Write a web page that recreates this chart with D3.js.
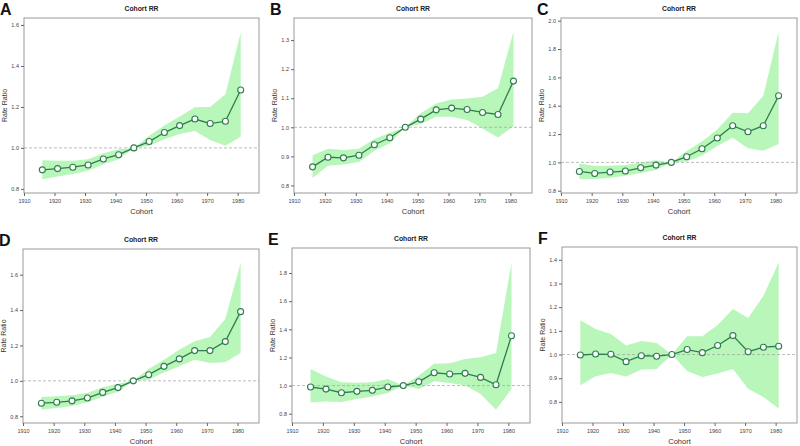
<!DOCTYPE html>
<html><head><meta charset="utf-8">
<script src="https://cdn.jsdelivr.net/npm/d3@7"></script>
<style>body{margin:0;background:#fff}svg{display:block}text{font-family:"Liberation Sans",Arial,sans-serif}</style>
</head><body><svg id="c" width="800" height="446"></svg>
<script>
const cohorts = [1916,1921,1926,1931,1936,1941,1946,1951,1956,1961,1966,1971,1976,1981];
const xTicks = [1910,1920,1930,1940,1950,1960,1970,1980];

const rrA  = [0.893,0.899,0.906,0.917,0.946,0.967,1.0,1.031,1.075,1.109,1.141,1.119,1.130,1.283];
const upA  = [0.940,0.937,0.937,0.945,0.974,0.993,1.0,1.059,1.110,1.153,1.198,1.200,1.262,1.563];
const loA  = [0.847,0.860,0.873,0.888,0.920,0.945,1.0,1.011,1.042,1.068,1.083,1.039,1.011,1.055];

const rrB  = [0.864,0.897,0.895,0.904,0.940,0.964,1.0,1.028,1.060,1.066,1.061,1.051,1.044,1.159];
const upB  = [0.904,0.926,0.922,0.926,0.960,0.981,1.0,1.048,1.082,1.096,1.099,1.105,1.134,1.329];
const loB  = [0.826,0.868,0.872,0.881,0.919,0.945,1.0,1.011,1.036,1.036,1.025,0.996,0.965,1.004];

const rrC  = [0.936,0.922,0.932,0.939,0.962,0.981,1.0,1.040,1.096,1.172,1.259,1.216,1.259,1.470];
const upC  = [0.993,0.974,0.976,0.981,1.000,1.016,1.0,1.080,1.148,1.233,1.351,1.346,1.470,1.922];
const loC  = [0.882,0.882,0.892,0.906,0.925,0.946,1.0,1.007,1.049,1.115,1.174,1.099,1.082,1.129];

const rrD  = [0.874,0.879,0.887,0.903,0.935,0.962,1.0,1.035,1.082,1.124,1.171,1.171,1.222,1.391];
const upD  = [0.909,0.913,0.919,0.932,0.964,0.984,1.0,1.067,1.120,1.176,1.224,1.248,1.350,1.666];
const loD  = [0.838,0.847,0.858,0.879,0.911,0.939,1.0,1.007,1.047,1.082,1.120,1.101,1.105,1.158];

const rrE  = [0.990,0.975,0.949,0.959,0.966,0.990,1.0,1.027,1.091,1.082,1.087,1.058,1.006,1.354];
const upE  = [1.117,1.065,1.023,1.020,1.023,1.046,1.0,1.070,1.156,1.158,1.189,1.201,1.232,1.871];
const loE  = [0.880,0.887,0.883,0.904,0.923,0.947,1.0,0.975,1.030,1.018,1.000,0.940,0.829,0.975];

const rrF  = [0.998,1.002,1.001,0.970,0.995,0.993,1.0,1.021,1.008,1.038,1.080,1.012,1.031,1.035];
const upF  = [1.145,1.108,1.087,1.038,1.057,1.049,1.0,1.077,1.077,1.125,1.192,1.154,1.248,1.389];
const loF  = [0.870,0.908,0.922,0.907,0.937,0.939,1.0,0.930,0.905,0.920,0.939,0.856,0.821,0.772];

const yTicksA = [0.8,1.0,1.2,1.4,1.6];
const yTicksB = [0.8,0.9,1.0,1.1,1.2,1.3];
const yTicksC = [0.8,1.0,1.2,1.4,1.6,1.8,2.0];
const yTicksD = [0.8,1.0,1.2,1.4,1.6];
const yTicksE = [0.8,1.0,1.2,1.4,1.6,1.8];
const yTicksF = [0.8,0.9,1.0,1.1,1.2,1.3,1.4];

const panels = [
  {label:"A", rr:rrA, up:upA, lo:loA, yt:yTicksA, yd:[0.78,1.634], box:[24,18,259,193]},
  {label:"B", rr:rrB, up:upB, lo:loB, yt:yTicksB, yd:[0.774,1.376], box:[294,18,532,193]},
  {label:"C", rr:rrC, up:upC, lo:loC, yt:yTicksC, yd:[0.784,2.019], box:[561,18,797,193]},
  {label:"D", rr:rrD, up:upD, lo:loD, yt:yTicksD, yd:[0.762,1.745], box:[23,249,259,423]},
  {label:"E", rr:rrE, up:upE, lo:loE, yt:yTicksE, yd:[0.734,1.978], box:[292,248,530,423]},
  {label:"F", rr:rrF, up:upF, lo:loF, yt:yTicksF, yd:[0.711,1.454], box:[562,247,797,423]}
];

const svg = d3.select("#c");
const xSpan = 77; // years across the frame

panels.forEach(p => {
  const [x0,y0,x1,y1] = p.box;
  const g = svg.append("g");
  const x = d3.scaleLinear().domain([1910, 1910 + xSpan]).range([x0, x1]);
  const y = d3.scaleLinear().domain(p.yd).range([y1, y0]);
  const data = cohorts.map((c,i)=>({c, rr:p.rr[i], up:p.up[i], lo:p.lo[i]}));

  g.append("path").datum(data)
    .attr("fill","#b9f6b9")
    .attr("d", d3.area().x(d=>x(d.c)).y0(d=>y(d.lo)).y1(d=>y(d.up)));

  g.append("line").attr("x1",x0).attr("x2",x1).attr("y1",y(1)).attr("y2",y(1))
    .attr("stroke","#aaa").attr("stroke-width",0.8).attr("stroke-dasharray","3,2");

  g.append("rect").attr("x",x0).attr("y",y0).attr("width",x1-x0).attr("height",y1-y0)
    .attr("fill","none").attr("stroke","#999").attr("stroke-width",1);

  const ya = g.append("g").attr("transform",`translate(${x0},0)`)
    .call(d3.axisLeft(y).tickValues(p.yt).tickFormat(d3.format(".1f")).tickSize(3).tickPadding(2));
  const xa = g.append("g").attr("transform",`translate(0,${y1})`)
    .call(d3.axisBottom(x).tickValues(xTicks).tickFormat(d3.format("d")).tickSize(3).tickPadding(3));
  [ya,xa].forEach(a=>{
    a.select(".domain").remove();
    a.selectAll(".tick line").attr("stroke","#666");
    a.selectAll(".tick text").attr("fill","#444").style("font-size","5.5px");
  });

  g.append("path").datum(data).attr("fill","none").attr("stroke","#2f7d4f").attr("stroke-width",1.3)
    .attr("d", d3.line().x(d=>x(d.c)).y(d=>y(d.rr)));
  g.selectAll("circle").data(data).join("circle")
    .attr("cx",d=>x(d.c)).attr("cy",d=>y(d.rr)).attr("r",3)
    .attr("fill","#fff").attr("stroke","#2f7d4f").attr("stroke-width",1.1);

  const cx = (x0+x1)/2;
  g.append("text").attr("x",cx).attr("y",y0-7).attr("text-anchor","middle")
    .style("font-size","6.8px").style("font-weight","bold").attr("fill","#222").text("Cohort RR");
  g.append("text").attr("x",cx).attr("y",y1+21).attr("text-anchor","middle")
    .style("font-size","7.5px").attr("fill","#333").text("Cohort");
  g.append("text").attr("transform",`translate(${x0-17},${(y0+y1)/2}) rotate(-90)`)
    .attr("text-anchor","middle").style("font-size","7px").attr("fill","#333").text("Rate Ratio");
  g.append("text").attr("x",x0-24).attr("y",y0-3).style("font-size","16px")
    .style("font-weight","bold").attr("fill","#111").text(p.label);
});
</script></body></html>
